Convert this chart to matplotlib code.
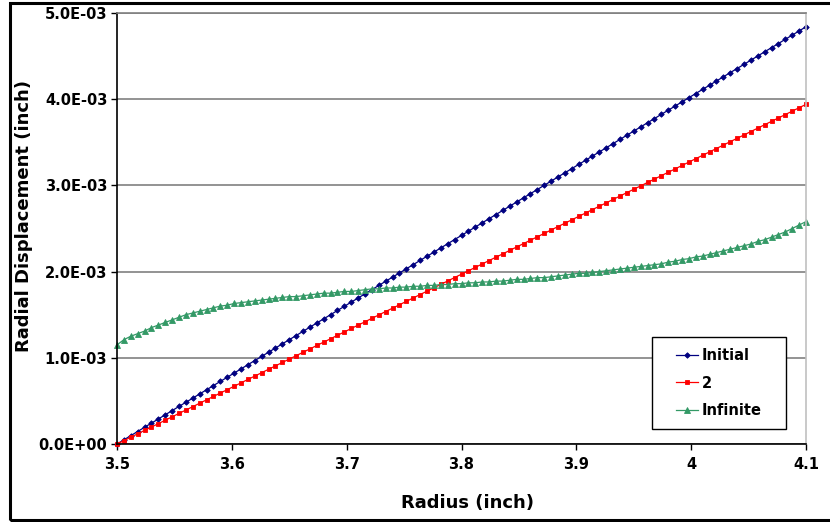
import matplotlib
matplotlib.use('Agg')
import matplotlib.pyplot as plt
import matplotlib.patches as patches
from matplotlib.ticker import FuncFormatter
import numpy as np

# %% Data (displacements, in units of 1e-3 inch)
radius = np.linspace(3.5, 4.1, 101)

disp_initial = [
    0.000, 0.048, 0.097, 0.145, 0.194, 0.242, 0.290, 0.339, 0.387, 0.436,
    0.484, 0.532, 0.581, 0.629, 0.678, 0.726, 0.774, 0.823, 0.871, 0.920,
    0.968, 1.016, 1.065, 1.113, 1.162, 1.210, 1.258, 1.307, 1.355, 1.404,
    1.452, 1.500, 1.549, 1.597, 1.646, 1.694, 1.742, 1.791, 1.839, 1.888,
    1.936, 1.984, 2.033, 2.081, 2.130, 2.178, 2.226, 2.275, 2.323, 2.372,
    2.420, 2.468, 2.517, 2.565, 2.614, 2.662, 2.710, 2.759, 2.807, 2.856,
    2.904, 2.952, 3.001, 3.049, 3.098, 3.146, 3.194, 3.243, 3.291, 3.340,
    3.388, 3.436, 3.485, 3.533, 3.582, 3.630, 3.678, 3.727, 3.775, 3.824,
    3.872, 3.920, 3.969, 4.017, 4.066, 4.114, 4.162, 4.211, 4.259, 4.308,
    4.356, 4.404, 4.453, 4.501, 4.550, 4.598, 4.646, 4.695, 4.743, 4.792,
    4.840]

disp_2 = [
    0.000, 0.039, 0.079, 0.118, 0.158, 0.197, 0.236, 0.276, 0.315, 0.355,
    0.394, 0.433, 0.473, 0.512, 0.552, 0.591, 0.630, 0.670, 0.709, 0.749,
    0.788, 0.827, 0.867, 0.906, 0.946, 0.985, 1.024, 1.064, 1.103, 1.143,
    1.182, 1.221, 1.261, 1.300, 1.340, 1.379, 1.418, 1.458, 1.497, 1.537,
    1.576, 1.615, 1.655, 1.694, 1.734, 1.773, 1.812, 1.852, 1.891, 1.931,
    1.970, 2.009, 2.049, 2.088, 2.128, 2.167, 2.206, 2.246, 2.285, 2.325,
    2.364, 2.403, 2.443, 2.482, 2.522, 2.561, 2.600, 2.640, 2.679, 2.719,
    2.758, 2.797, 2.837, 2.876, 2.916, 2.955, 2.994, 3.034, 3.073, 3.113,
    3.152, 3.191, 3.231, 3.270, 3.310, 3.349, 3.388, 3.428, 3.467, 3.507,
    3.546, 3.585, 3.625, 3.664, 3.704, 3.743, 3.782, 3.822, 3.861, 3.901,
    3.940]

disp_infinite = [
    1.15, 1.21, 1.25, 1.28, 1.31, 1.35, 1.38, 1.41, 1.44, 1.47,
    1.50, 1.52, 1.54, 1.56, 1.58, 1.60, 1.61, 1.63, 1.64, 1.65,
    1.66, 1.67, 1.68, 1.69, 1.70, 1.71, 1.71, 1.72, 1.73, 1.74,
    1.75, 1.75, 1.76, 1.77, 1.77, 1.78, 1.79, 1.80, 1.80, 1.81,
    1.81, 1.82, 1.82, 1.83, 1.83, 1.84, 1.84, 1.85, 1.85, 1.86,
    1.86, 1.87, 1.87, 1.88, 1.88, 1.89, 1.89, 1.90, 1.91, 1.91,
    1.92, 1.93, 1.93, 1.94, 1.95, 1.96, 1.97, 1.98, 1.98, 1.99,
    2.00, 2.01, 2.02, 2.03, 2.04, 2.05, 2.06, 2.07, 2.08, 2.09,
    2.11, 2.12, 2.14, 2.15, 2.17, 2.18, 2.20, 2.22, 2.24, 2.26,
    2.28, 2.30, 2.32, 2.35, 2.37, 2.40, 2.43, 2.46, 2.50, 2.54,
    2.58]

x_ticks = [3.5, 3.6, 3.7, 3.8, 3.9, 4.0, 4.1]
y_ticks = [0.0, 1.0e-3, 2.0e-3, 3.0e-3, 4.0e-3, 5.0e-3]
scale = 1e-3

# %% Figure
plt.rcParams['font.family'] = 'DejaVu Sans'
plt.rcParams['font.weight'] = 'bold'

fig = plt.figure(figsize=(8.3, 5.22), dpi=100)
ax = fig.add_axes([117 / 830, 1 - 444 / 522, 689 / 830, 431 / 522])

# outer chart border (right side runs off the picture)
fig.patches.append(patches.Rectangle((9.5 / 830, 2 / 522), 1.2, 517.5 / 522,
                                     transform=fig.transFigure, fill=False,
                                     edgecolor='black', linewidth=2.2))

ax.plot(radius, np.array(disp_initial) * scale, color='#000080', lw=0.9,
        marker='D', markersize=2.8, markeredgewidth=0.6, clip_on=False,
        label='Initial')
ax.plot(radius, np.array(disp_2) * scale, color='#ff0000', lw=0.9,
        marker='s', markersize=3.3, markeredgewidth=0.6, clip_on=False,
        label='2')
ax.plot(radius, np.array(disp_infinite) * scale, color='#339966', lw=0.9,
        marker='^', markersize=4.8, markeredgewidth=0.6, clip_on=False,
        label='Infinite')

ax.set_xlim(3.5, 4.1)
ax.set_ylim(0, 5e-3)
ax.set_xticks(x_ticks)
ax.set_yticks(y_ticks)
ax.xaxis.set_major_formatter(FuncFormatter(lambda v, p: '%g' % round(v, 2)))
ax.yaxis.set_major_formatter(FuncFormatter(lambda v, p: '%.1E' % v))
ax.tick_params(axis='both', direction='out', length=4.5, width=1,
               labelsize=10.5, color='black')
ax.tick_params(axis='y', pad=2.5)
ax.tick_params(axis='x', pad=5)

ax.grid(axis='y', color='#808080', linewidth=1.2)
ax.set_axisbelow(True)
ax.spines['left'].set_color('black')
ax.spines['bottom'].set_color('black')
ax.spines['top'].set_color('#808080')
ax.spines['right'].set_color('#c0c0c0')
for s in ax.spines.values():
    s.set_linewidth(1.2)

ax.set_xlabel('Radius (inch)', fontsize=13, fontweight='bold', va='center')
ax.xaxis.set_label_coords(0.509, -0.137)
ax.set_ylabel('Radial Displacement (inch)', fontsize=13, fontweight='bold',
              va='center')
ax.yaxis.set_label_coords(-0.135, 0.529)

# legend: white box with black frame, entries centred in it
box = patches.Rectangle((0.776, 0.035), 0.195, 0.213, transform=ax.transAxes,
                        facecolor='white', edgecolor='black', linewidth=1.0,
                        zorder=4)
ax.add_patch(box)
leg = ax.legend(loc='center', bbox_to_anchor=(0.8735, 0.1415), frameon=False,
                fontsize=10.5, handlelength=1.5, handletextpad=0.3,
                labelspacing=0.85, borderpad=0.0)
leg.set_zorder(5)

fig.savefig('out.png', dpi=100)
